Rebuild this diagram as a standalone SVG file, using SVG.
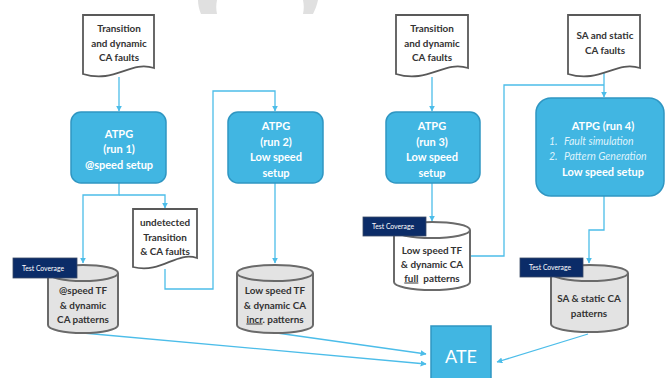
<svg xmlns="http://www.w3.org/2000/svg" width="666" height="378" viewBox="0 0 666 378">
  <defs>
    <style>
      .doc { fill: #ffffff; stroke: #595959; stroke-width: 1.8; }
      .box { fill: #41b6e2; stroke: #2f96c2; stroke-width: 1.5; }
      .cyl { stroke: #6a6a6a; stroke-width: 2; }
      .cylg { fill: #e3e3e3; }
      .cylw { fill: #ffffff; }
      .tag { fill: #0b2c68; stroke: #3a4a66; stroke-width: 0.8; }
      .tagt { font-family: Lato, "Liberation Sans", sans-serif; font-size: 6.8px; fill: #ffffff; }
      .dt { font-family: Lato, "Liberation Sans", sans-serif; font-size: 9.9px; font-weight: bold; fill: #333333; text-anchor: middle; }
      .bt { font-family: Lato, "Liberation Sans", sans-serif; font-size: 11px; font-weight: bold; fill: #ffffff; text-anchor: middle; }
      .it { font-family: Lato, "Liberation Sans", sans-serif; font-size: 10.5px; font-style: italic; fill: #dff3fc; }
      .wire { fill: none; stroke: #4cbde9; stroke-width: 1.3; }
      .mark { fill: #4cbde9; }
    </style>
    <marker id="arrow" viewBox="0 0 10 10" refX="9" refY="5" markerWidth="6" markerHeight="6" orient="auto" markerUnits="userSpaceOnUse">
      <path d="M0,0 L10,5 L0,10 Z" class="mark"/>
    </marker>
  </defs>

  <rect width="666" height="378" fill="#ffffff"/>

  <!-- faint ring fragments along the top edge -->
  <g id="backdrop" fill="#e0e0e0">
    <path d="M198,0 H217 C216,5 216,9 217,14 H201 C199,9 198,5 198,0 Z"/>
    <path d="M303,0 H318 C317,5 315,10 313,14 H303 C304,9 304,5 303,0 Z"/>
  </g>

  <!-- connectors -->
  <g id="connectors">
    <path class="wire" d="M119,77 V111" marker-end="url(#arrow)"/>
    <path class="wire" d="M119,183 V195 H83 V263" marker-end="url(#arrow)"/>
    <path class="wire" d="M119,195 H165 V208" marker-end="url(#arrow)"/>
    <path class="wire" d="M165,269 V289 H213 V91 H275 V111" marker-end="url(#arrow)"/>
    <path class="wire" d="M275,183 V263" marker-end="url(#arrow)"/>
    <path class="wire" d="M432,77 V111" marker-end="url(#arrow)"/>
    <path class="wire" d="M432,183 V221" marker-end="url(#arrow)"/>
    <path class="wire" d="M470,256 H504 V85 H604"/>
    <path class="wire" d="M604,70 V97" marker-end="url(#arrow)"/>
    <path class="wire" d="M604,196 V230 H589 V263" marker-end="url(#arrow)"/>
    <path class="wire" d="M277,333 L426,354" marker-end="url(#arrow)"/>
    <path class="wire" d="M83,333 L426,364" marker-end="url(#arrow)"/>
    <path class="wire" d="M588,334 L497,362" marker-end="url(#arrow)"/>
  </g>

  <!-- fault lists -->
  <g id="faults-1">
    <path class="doc" d="M83,15 H154 V68 C130,60 115,84 83,74 Z"/>
    <text class="dt" x="119" y="31.5">Transition</text>
    <text class="dt" x="119" y="46.5">and dynamic</text>
    <text class="dt" x="119" y="60.5">CA faults</text>
  </g>
  <g id="faults-3">
    <path class="doc" d="M396,15 H468 V68 C444,60 428,84 396,74 Z"/>
    <text class="dt" x="432" y="31.5">Transition</text>
    <text class="dt" x="432" y="46.5">and dynamic</text>
    <text class="dt" x="432" y="60.5">CA faults</text>
  </g>
  <g id="faults-4">
    <path class="doc" d="M568,15 H640 V68 C616,60 600,84 568,74 Z"/>
    <text class="dt" x="605" y="38.5">SA and static</text>
    <text class="dt" x="605" y="53.5">CA faults</text>
  </g>
  <g id="undetected">
    <path class="doc" d="M133,209 H197 V258 C176,251 162,274 133,267 Z"/>
    <text class="dt" x="165" y="225.5">undetected</text>
    <text class="dt" x="165" y="240.5">Transition</text>
    <text class="dt" x="165" y="254.5">&amp; CA faults</text>
  </g>

  <!-- ATPG runs -->
  <g id="atpg-1">
    <rect class="box" x="71" y="112" width="95" height="71" rx="10"/>
    <text class="bt" x="119" y="138">ATPG</text>
    <text class="bt" x="119" y="153">(run 1)</text>
    <text class="bt" x="119" y="169">@speed setup</text>
  </g>
  <g id="atpg-2">
    <rect class="box" x="228" y="112" width="95" height="71" rx="10"/>
    <text class="bt" x="276" y="130">ATPG</text>
    <text class="bt" x="276" y="146">(run 2)</text>
    <text class="bt" x="276" y="161">Low speed</text>
    <text class="bt" x="276" y="177">setup</text>
  </g>
  <g id="atpg-3">
    <rect class="box" x="386" y="112" width="94" height="71" rx="10"/>
    <text class="bt" x="432" y="130">ATPG</text>
    <text class="bt" x="432" y="146">(run 3)</text>
    <text class="bt" x="432" y="161">Low speed</text>
    <text class="bt" x="432" y="177">setup</text>
  </g>
  <g id="atpg-4">
    <rect class="box" x="536" y="98" width="128" height="98" rx="15"/>
    <text class="bt" x="603" y="130">ATPG (run 4)</text>
    <text class="it" x="549" y="145">1.</text>
    <text class="it" x="564" y="145">Fault simulation</text>
    <text class="it" x="549" y="160">2.</text>
    <text class="it" x="564" y="160">Pattern Generation</text>
    <text class="bt" x="603" y="176">Low speed setup</text>
  </g>

  <!-- pattern stores -->
  <g id="patterns-1">
    <path class="cyl cylg" d="M48,273 V325 A35,8 0 0 0 118,325 V273 A35,8 0 0 0 48,273 Z"/>
    <path class="cyl" fill="none" d="M48,273 A35,8 0 0 0 118,273"/>
    <rect class="tag" x="13" y="258" width="64" height="20"/>
    <text class="tagt" x="22" y="270.5">Test Coverage</text>
    <text class="dt" x="83" y="293.5">@speed TF</text>
    <text class="dt" x="83" y="308.5">&amp; dynamic</text>
    <text class="dt" x="83" y="322.5">CA patterns</text>
  </g>
  <g id="patterns-2">
    <path class="cyl cylg" d="M237,273 V325 A38,8 0 0 0 313,325 V273 A38,8 0 0 0 237,273 Z"/>
    <path class="cyl" fill="none" d="M237,273 A38,8 0 0 0 313,273"/>
    <text class="dt" x="275" y="293.5">Low speed TF</text>
    <text class="dt" x="275" y="308.5">&amp; dynamic CA</text>
    <text class="dt" x="275" y="322.5"><tspan text-decoration="underline">incr</tspan>. patterns</text>
  </g>
  <g id="patterns-3">
    <path class="cyl cylw" d="M394,230 V282 A38,8 0 0 0 470,282 V230 A38,8 0 0 0 394,230 Z"/>
    <path class="cyl" fill="none" d="M394,230 A38,8 0 0 0 470,230"/>
    <rect class="tag" x="363" y="217" width="63" height="19"/>
    <text class="tagt" x="372" y="229">Test Coverage</text>
    <text class="dt" x="432" y="253.5">Low speed TF</text>
    <text class="dt" x="432" y="267.5">&amp; dynamic CA</text>
    <text class="dt" x="432" y="281.5"><tspan text-decoration="underline">full</tspan><tspan dx="5">patterns</tspan></text>
  </g>
  <g id="patterns-4">
    <path class="cyl cylg" d="M551,273 V324 A38.5,8 0 0 0 628,324 V273 A38.5,8 0 0 0 551,273 Z"/>
    <path class="cyl" fill="none" d="M551,273 A38.5,8 0 0 0 628,273"/>
    <rect class="tag" x="520" y="258" width="63" height="19"/>
    <text class="tagt" x="529" y="270">Test Coverage</text>
    <text class="dt" x="589" y="301.5">SA &amp; static CA</text>
    <text class="dt" x="589" y="316.5">patterns</text>
  </g>

  <!-- tester -->
  <g id="ate">
    <rect class="box" x="431" y="326" width="60" height="56"/>
    <text x="461" y="363" font-family="Lato, 'Liberation Sans', sans-serif" font-size="18" fill="#ffffff" text-anchor="middle">ATE</text>
  </g>
</svg>
